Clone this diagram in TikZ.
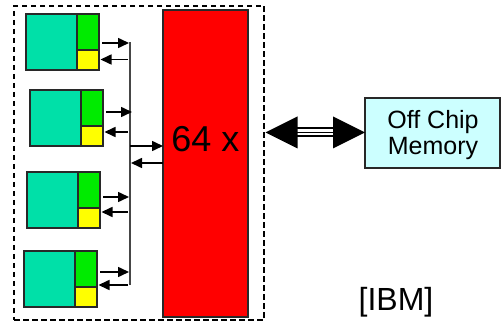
\documentclass[tikz,border=0pt]{standalone}
\usepackage{fontspec}
\setmainfont{Liberation Sans}
\usetikzlibrary{arrows.meta,calc}
\definecolor{core}{RGB}{0,224,168}
\definecolor{regA}{RGB}{0,235,0}
\definecolor{regB}{RGB}{255,255,0}
\definecolor{memfill}{RGB}{204,255,255}
\definecolor{edge}{RGB}{40,40,40}
\definecolor{busgray}{RGB}{70,70,70}
\tikzset{
  box/.style={draw=edge, line width=1.3pt, inner sep=0pt, outer sep=0pt, rectangle},
  corebox/.style={box, fill=core, minimum width=51pt, minimum height=56pt, anchor=north west},
  hibox/.style={box, fill=regA, minimum width=22pt, minimum height=36pt, anchor=north west},
  lobox/.style={box, fill=regB, minimum width=22pt, minimum height=20pt, anchor=north west},
  arr/.style={line width=1.6pt, -{Triangle[length=11pt,width=10pt]}},
  busline/.style={draw=busgray, line width=1.8pt},
}
\begin{document}
\begin{tikzpicture}[x=1pt,y=-1pt]
\useasboundingbox (0,0) rectangle (501,323);

% chip boundary
\node[draw, dash pattern=on 5.5pt off 3.5pt, line width=1.2pt, minimum width=250pt,
      minimum height=314pt, inner sep=0pt] (chip) at (139,163) {};

% shared memory block
\node[box, fill=red, minimum width=85pt, minimum height=307pt] (mem) at (205.5,163.5) {};
\node[anchor=base, font=\fontsize{36pt}{38pt}\selectfont, inner sep=0pt] (mult) at (205.5,152) {64 x};

% processor tiles: core with two register blocks
\foreach \i/\x/\y in {1/26/14, 2/30/90, 3/27/172, 4/24/251} {
  \node[corebox] (c\i) at (\x,\y) {};
  \node[hibox] (h\i) at (c\i.north east) {};
  \node[lobox] (l\i) at (h\i.south west) {};
}

% bus
\coordinate (bustop) at (130,42.5);
\coordinate (busbot) at (130,285);
\draw[busline] (bustop) -- (busbot);

% tile <-> bus links
\foreach \i/\ya/\yb/\tipa in {1/43/59.5/129, 2/112/132/132, 3/197/212/129, 4/272/285/129} {
  \coordinate (in\i) at (\tipa,\ya);
  \coordinate (out\i) at (128,\yb);
  \draw[arr] ([xshift=3pt]h\i.east |- in\i) -- (in\i);
  \draw[arr] (out\i) -- ([xshift=1.5pt]l\i.east |- out\i);
}

% bus <-> memory links
\coordinate (bm1) at (130,146);
\coordinate (bm2) at (130,163);
\draw[arr] (bm1) -- (mem.west |- bm1);
\draw[arr] (mem.west |- bm2) -- ([xshift=1pt]bm2);

% off chip memory
\node[box, fill=memfill, minimum width=135pt, minimum height=70pt] (off) at (432.5,133) {};
\node[anchor=base, align=center, inner sep=0pt,
      font=\fontsize{25pt}{26pt}\selectfont] (offtxt) at (433,155) {Off Chip\\Memory};

% wide link between chip and off chip memory
\coordinate (la) at (265.5,132.5);
\coordinate (lb) at (off.west |- la);
\draw[line width=10pt, shorten <=30pt, shorten >=30pt] (la) -- (lb);
\draw[white, line width=6pt, shorten <=28pt, shorten >=28pt] (la) -- (lb);
\draw[line width=1.8pt, shorten <=30pt, shorten >=30pt] (la) -- (lb);
\fill (la) -- ++(32,-16) -- ++(0,32) -- cycle;
\fill (lb) -- ++(-32,-16) -- ++(0,32) -- cycle;

% source tag
\node[anchor=base, font=\fontsize{32pt}{34pt}\selectfont, inner sep=0pt] (src) at (396,310) {[IBM]};
\end{tikzpicture}
\end{document}
